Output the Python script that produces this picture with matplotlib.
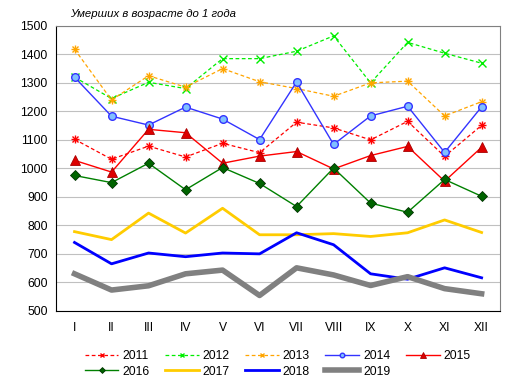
import matplotlib
matplotlib.use("Agg")
import matplotlib.pyplot as plt

plt.rcParams['font.family'] = ['Liberation Sans', 'DejaVu Sans']

months = ["I", "II", "III", "IV", "V", "VI", "VII", "VIII", "IX", "X", "XI", "XII"]

y2011 = [1102, 1032, 1078, 1040, 1088, 1055, 1162, 1142, 1100, 1165, 1042, 1151]
y2012 = [1320, 1245, 1302, 1280, 1385, 1385, 1411, 1465, 1300, 1442, 1404, 1369]
y2013 = [1418, 1240, 1325, 1285, 1350, 1304, 1280, 1253, 1300, 1306, 1184, 1234]
y2014 = [1320, 1183, 1152, 1215, 1173, 1101, 1303, 1084, 1184, 1218, 1056, 1216]
y2015 = [1028, 987, 1137, 1125, 1018, 1043, 1059, 998, 1045, 1077, 955, 1074]
y2016 = [975, 950, 1018, 925, 1003, 947, 866, 1001, 878, 846, 961, 902]
y2017 = [778, 750, 843, 773, 860, 767, 767, 771, 761, 774, 819, 775]
y2018 = [740, 665, 703, 690, 703, 700, 774, 732, 630, 611, 651, 616]
y2019 = [630, 573, 588, 630, 643, 554, 651, 626, 589, 620, 578, 560]

fig = plt.figure(figsize=(5.14, 3.92), dpi=100)
ax = fig.add_axes([0.109, 0.207, 0.864, 0.727])
x = range(len(months))

dash = (0, (3, 2))
h = {}
h[2011], = ax.plot(x, y2011, color="#ff0000", ls=dash, lw=0.9, marker="x", ms=5, mew=1)
ax.plot(x, y2011, color="#ff0000", ls="none", marker="+", ms=6, mew=1)
h[2012], = ax.plot(x, y2012, color="#00ee00", ls=dash, lw=0.9, marker="x", ms=6, mew=1)
h[2013], = ax.plot(x, y2013, color="#ffa500", ls=dash, lw=0.9, marker="x", ms=5, mew=1)
ax.plot(x, y2013, color="#ffa500", ls="none", marker="+", ms=6, mew=1)
h[2014], = ax.plot(x, y2014, color="#3333ff", lw=1, marker="o", ms=5.5, mfc="#80c0ff",
                   mec="#3333ff", mew=1)
h[2015], = ax.plot(x, y2015, color="#ff0000", lw=1, marker="^", ms=6.5, mfc="#dd0000",
                   mec="#aa0000", mew=0.6)
h[2016], = ax.plot(x, y2016, color="#008000", lw=1, marker="D", ms=5, mfc="#006400",
                   mec="#003300", mew=0.6)
h[2017], = ax.plot(x, y2017, color="#ffcc00", lw=2)
h[2018], = ax.plot(x, y2018, color="#0000ff", lw=2)
h[2019], = ax.plot(x, y2019, color="#808080", lw=4)

ax.set_xlim(-0.5, 11.5)
ax.set_ylim(500, 1500)
ax.set_yticks(range(500, 1501, 100))
ax.set_xticks(list(x))
ax.set_xticklabels(months)
ax.tick_params(length=0, labelsize=8.7, colors="#000000", pad=6)
ax.tick_params(axis="x", pad=8)
ax.grid(axis="y", color="#c0c0c0", lw=0.8)
ax.set_axisbelow(True)
for s in ["top", "right"]:
    ax.spines[s].set_color("#808080")
for s in ["left", "bottom"]:
    ax.spines[s].set_color("#000000")

fig.text(0.136, 0.965, "Умерших в возрасте до 1 года", fontsize=8.2,
         style="italic", ha="left", va="center")

# legend is filled column by column, so interleave the two rows
order = [2011, 2016, 2012, 2017, 2013, 2018, 2014, 2019, 2015]
fig.legend([h[k] for k in order], [str(k) for k in order],
           loc="center", bbox_to_anchor=(0.54, 0.072), ncol=5, frameon=False,
           fontsize=8.7, handlelength=2.8, handletextpad=0.3, columnspacing=1.3,
           labelspacing=0.3, markerscale=0.6)

fig.savefig("out.png", dpi=100)
